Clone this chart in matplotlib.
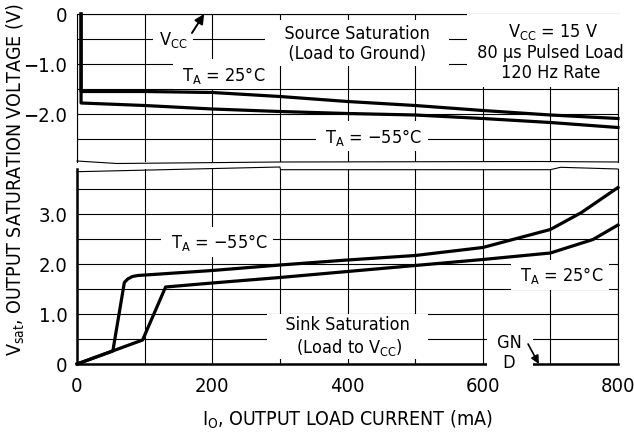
import matplotlib.pyplot as plt
from matplotlib import font_manager

# pick a narrow sans face if one is installed
faces = [(f.name, f.stretch) for f in font_manager.fontManager.ttflist]
narrow = [n for n, s in faces if 'Narrow' in n or 'Condensed' in n
          or (isinstance(s, str) and 'condensed' in s) or (isinstance(s, int) and s < 500)]
if narrow:
    plt.rcParams['font.family'] = [narrow[0], 'DejaVu Sans']
    plt.rcParams['font.stretch'] = 'condensed'
else:
    plt.rcParams['font.family'] = ['Liberation Sans', 'DejaVu Sans']
plt.rcParams['mathtext.default'] = 'regular'

# source saturation (load to ground), I_O in mA, Vsat in V
src_25_x = [6, 6, 100, 200, 300, 400, 500, 600, 700, 800]
src_25_y = [0, -1.55, -1.55, -1.57, -1.65, -1.75, -1.83, -1.93, -2.02, -2.09]
src_m55_x = [6, 6, 100, 200, 300, 400, 500, 600, 700, 800]
src_m55_y = [0, -1.78, -1.83, -1.90, -1.95, -1.99, -2.02, -2.09, -2.17, -2.27]

# sink saturation (load to Vcc)
snk_m55_x = [0, 53, 70, 75, 82, 90, 200, 300, 400, 500, 600, 700, 746, 800]
snk_m55_y = [0, 0.26, 1.63, 1.70, 1.75, 1.77, 1.87, 1.98, 2.08, 2.17, 2.33, 2.69, 3.03, 3.53]
snk_25_x = [0, 97, 131, 200, 300, 400, 500, 600, 700, 763, 800]
snk_25_y = [0, 0.48, 1.54, 1.62, 1.73, 1.85, 1.97, 2.09, 2.22, 2.49, 2.78]

# axis break outlines
brk_top_x = [0, 59, 300, 685, 800]
brk_top_y = [-2.94, -2.99, -2.96, -2.95, -2.96]
brk_bot_x = [0, 300, 301, 700, 715, 800]
brk_bot_y = [3.846, 3.94, 3.886, 3.886, 3.934, 3.9]

x_major = [0, 200, 400, 600, 800]
x_minor = [100, 300, 500, 700]
top_major = [0, -1.0, -2.0]
top_minor = [-0.5, -1.5, -2.5]
top_labels = ['0', '\u22121.0', '\u22122.0']
bot_major = [0, 1.0, 2.0, 3.0]
bot_minor = [0.5, 1.5, 2.5, 3.5]
bot_labels = ['0', '1.0', '2.0', '3.0']

fig = plt.figure(figsize=(6.34, 4.35), dpi=100)
W, H = 634, 435
ax1 = fig.add_axes([77/W, 1-163/H, 541/W, 148/H])
ax2 = fig.add_axes([77/W, 1-365/H, 541/W, 195/H])

tick_fs = 14.5
txt_fs = 13
for ax in (ax1, ax2):
    ax.set_xlim(0, 800)
    ax.set_xticks(x_major)
    ax.set_xticks(x_minor, minor=True)
    ax.grid(True, which='both', color='black', lw=0.8)
    ax.tick_params(which='both', length=0, labelsize=tick_fs)
    ax.tick_params(axis='y', pad=7)
    ax.tick_params(axis='x', pad=9)
    for s in ax.spines.values():
        s.set_linewidth(0.8)

ax1.set_ylim(-2.96, 0)
ax1.set_yticks(top_major)
ax1.set_yticks(top_minor, minor=True)
ax1.set_yticklabels(top_labels)
ax1.tick_params(axis='x', labelbottom=False)
ax1.spines['bottom'].set_visible(False)
ax1.plot(brk_top_x, brk_top_y, color='black', lw=0.8, clip_on=False)

ax2.set_ylim(0, 3.9)
ax2.set_yticks(bot_major)
ax2.set_yticks(bot_minor, minor=True)
ax2.set_yticklabels(bot_labels)
ax2.spines['top'].set_visible(False)
ax2.spines['left'].set_linewidth(1.8)
ax2.spines['bottom'].set_linewidth(1.8)
ax2.plot(brk_bot_x, brk_bot_y, color='black', lw=0.8, clip_on=False)

lw = 2.3
ax1.plot(src_25_x, src_25_y, color='black', lw=lw, zorder=6, clip_on=False)
ax1.plot(src_m55_x, src_m55_y, color='black', lw=lw, zorder=6, clip_on=False)
ax2.plot(snk_m55_x, snk_m55_y, color='black', lw=lw, zorder=6, clip_on=False)
ax2.plot(snk_25_x, snk_25_y, color='black', lw=lw, zorder=6, clip_on=False)

def label(ax, x, y, s, pad=0.25):
    ax.text(x, y, s, fontsize=txt_fs, ha='center', va='center', zorder=5,
            linespacing=1.15,
            bbox=dict(boxstyle='square,pad=%s' % pad, facecolor='white', edgecolor='none'))

# top panel annotations
label(ax1, 142, -0.5, 'V$_{CC}$', pad=0.3)
ax1.annotate('', xy=(188, 0), xytext=(170, -0.38),
             arrowprops=dict(arrowstyle='-|>', color='black', lw=1.4, mutation_scale=14,
                             shrinkA=0, shrinkB=0), zorder=6)
label(ax1, 214, -1.2, ' T$_A$ = 25\u00b0C ', pad=0.25)
label(ax1, 414, -0.58, '   Source Saturation   \n   (Load to Ground)   ', pad=0.2)
label(ax1, 700, -0.74, ' V$_{CC}$ = 15 V \n 80 \u00b5s Pulsed Load \n 120 Hz Rate ', pad=0.3)
label(ax1, 436, -2.44, ' T$_A$ = \u221255\u00b0C ', pad=0.25)

# bottom panel annotations
label(ax2, 207, 2.44, ' T$_A$ = \u221255\u00b0C ', pad=0.25)
label(ax2, 714, 1.78, ' T$_A$ = 25\u00b0C ', pad=0.25)
label(ax2, 400, 0.56, '   Sink Saturation   \n   (Load to V$_{CC}$)   ', pad=0.15)
label(ax2, 640, 0.24, ' GN \n D ', pad=0.3)
ax2.annotate('', xy=(683, 0), xytext=(667, 0.4),
             arrowprops=dict(arrowstyle='-|>', color='black', lw=1.2, mutation_scale=12,
                             shrinkA=0, shrinkB=0), zorder=6)

fig.text(347/W, 1-420/H, 'I$_O$, OUTPUT LOAD CURRENT (mA)', fontsize=14,
         ha='center', va='center')
fig.text(16/W, 1-180/H, 'V$_{sat}$, OUTPUT SATURATION VOLTAGE (V)', fontsize=14,
         ha='center', va='center', rotation=90)

fig.savefig('out.png', dpi=100)
